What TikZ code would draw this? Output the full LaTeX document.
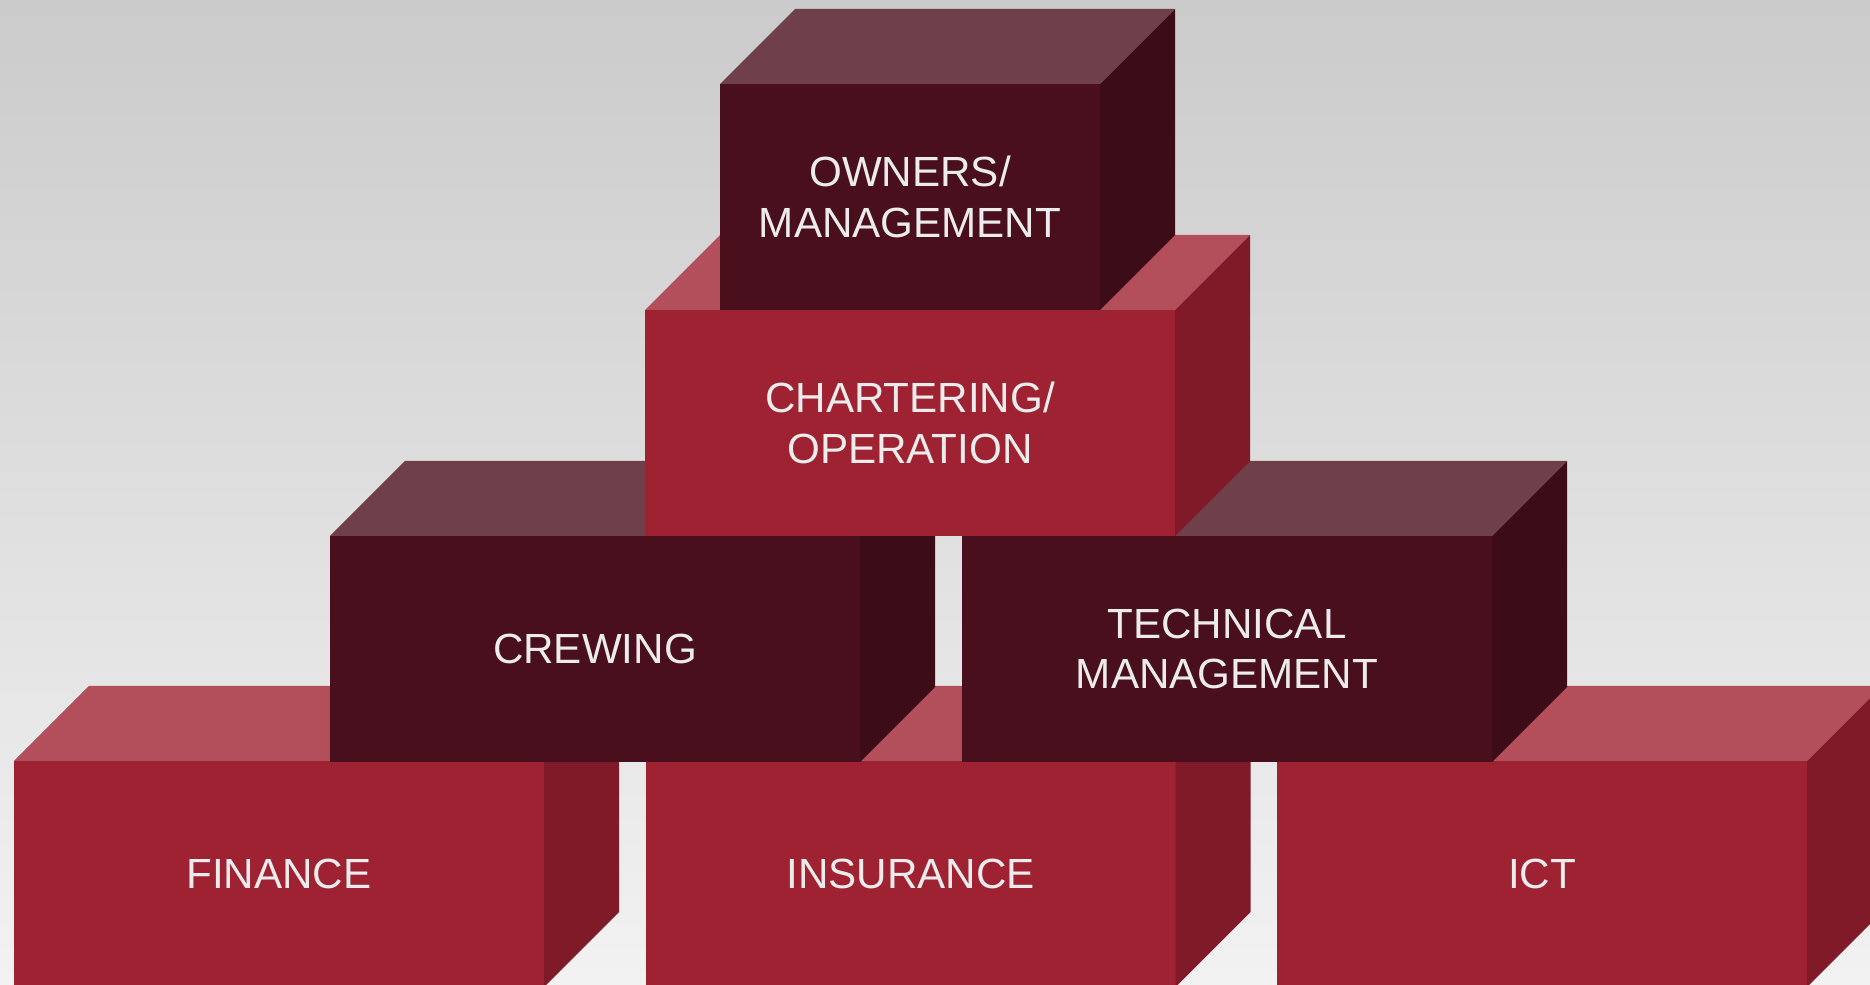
\documentclass[tikz,border=0pt]{standalone}
\usepackage{fontspec}
\setmainfont{Liberation Sans}
\usepackage{tikz}
\usetikzlibrary{calc}

\definecolor{bgTop}{RGB}{203,203,203}
\definecolor{bgBottom}{RGB}{242,242,242}
\definecolor{wineFront}{RGB}{74,15,29}
\definecolor{wineTop}{RGB}{111,64,74}
\definecolor{wineSide}{RGB}{61,13,23}
\definecolor{redFront}{RGB}{158,34,50}
\definecolor{redTop}{RGB}{178,79,90}
\definecolor{redSide}{RGB}{128,26,40}
\definecolor{labelgray}{RGB}{236,236,236}

\tikzset{
  crate/.style={inner sep=0pt, outer sep=0pt, minimum width=5.3cm, minimum height=2.26cm,
    text=labelgray, align=center, font=\fontsize{12}{14.5}\selectfont},
}

\begin{document}
\begin{tikzpicture}

\useasboundingbox (0,0) rectangle (18.70,9.84);
\clip (0,0) rectangle (18.70,9.84);
\fill[top color=bgTop, bottom color=bgBottom] (0,0) rectangle (18.70,9.84);

% bottom row
\node[crate, fill=redFront] (finance) at (2.79,1.10) {FINANCE};
\node[crate, fill=redFront] (insurance) at (9.105,1.10) {INSURANCE};
\node[crate, fill=redFront] (ict) at (15.42,1.10) {ICT};
\foreach \n/\c in {finance/red,insurance/red,ict/red}
{
  \fill[\c Top] (\n.north west) -- ($(\n.north west)+(.75,.75)$) -- ($(\n.north east)+(.75,.75)$) -- (\n.north east) -- cycle;
  \fill[\c Side] (\n.north east) -- ($(\n.north east)+(.75,.75)$) -- ($(\n.south east)+(.75,.75)$) -- (\n.south east) -- cycle;
}

% middle row
\node[crate, fill=wineFront] (crewing) at (5.95,3.35) {CREWING};
\node[crate, fill=wineFront] (technical) at (12.27,3.35) {TECHNICAL\\MANAGEMENT};
\foreach \n/\c in {crewing/wine,technical/wine}
{
  \fill[\c Top] (\n.north west) -- ($(\n.north west)+(.75,.75)$) -- ($(\n.north east)+(.75,.75)$) -- (\n.north east) -- cycle;
  \fill[\c Side] (\n.north east) -- ($(\n.north east)+(.75,.75)$) -- ($(\n.south east)+(.75,.75)$) -- (\n.south east) -- cycle;
}

% upper boxes
\node[crate, fill=redFront] (chartering) at (9.10,5.61) {CHARTERING/\\OPERATION};
\foreach \n/\c in {chartering/red}
{
  \fill[\c Top] (\n.north west) -- ($(\n.north west)+(.75,.75)$) -- ($(\n.north east)+(.75,.75)$) -- (\n.north east) -- cycle;
  \fill[\c Side] (\n.north east) -- ($(\n.north east)+(.75,.75)$) -- ($(\n.south east)+(.75,.75)$) -- (\n.south east) -- cycle;
}
\node[crate, fill=wineFront, minimum width=3.8cm] (owners) at (9.10,7.87) {OWNERS/\\MANAGEMENT};
\foreach \n/\c in {owners/wine}
{
  \fill[\c Top] (\n.north west) -- ($(\n.north west)+(.75,.75)$) -- ($(\n.north east)+(.75,.75)$) -- (\n.north east) -- cycle;
  \fill[\c Side] (\n.north east) -- ($(\n.north east)+(.75,.75)$) -- ($(\n.south east)+(.75,.75)$) -- (\n.south east) -- cycle;
}

\end{tikzpicture}
\end{document}
